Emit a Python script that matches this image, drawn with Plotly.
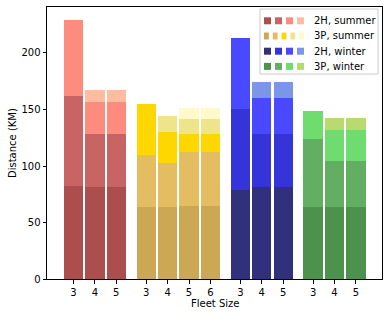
import plotly.graph_objects as go

# ---- data (cumulative distance per stacked layer, per bar) ----
group_names = ["2H, summer", "3P, summer", "2H, winter", "3P, winter"]
fleet_sizes = [[3, 4, 5], [3, 4, 5, 6], [3, 4, 5], [3, 4, 5]]
summer_2h = [[82.6, 162.0, 229.2], [81.4, 128.3, 156.6, 167.3], [81.4, 128.3, 156.6, 167.3]]
summer_3p = [[64.0, 109.7, 154.9], [64.0, 102.7, 130.0, 144.0],
             [64.9, 112.4, 128.6, 141.6, 151.3], [64.9, 112.4, 128.6, 141.6, 151.3]]
winter_2h = [[78.8, 150.4, 213.3], [81.4, 128.3, 160.2, 174.3], [81.4, 128.3, 160.2, 174.3]]
winter_3p = [[63.7, 123.9, 148.7], [63.7, 104.4, 131.9, 142.5], [63.7, 104.4, 131.9, 142.5]]
y_ticks = [0, 50, 100, 150, 200]

palettes = [
    ["#ad4e4e", "#c86464", "#fe8c7e", "#ffbca0"],
    ["#cca855", "#e4bc62", "#ffd700", "#efe38b", "#fff9cc"],
    ["#30307c", "#3434d8", "#4949ff", "#7b96e8"],
    ["#4c924c", "#62ae62", "#6edc6e", "#b8da70"],
]
group_data = [summer_2h, summer_3p, winter_2h, winter_3p]

fig = go.Figure()
gap = 1.4
start = 0.0
tickvals, ticktext = [], []
for sizes, bars, cols in zip(fleet_sizes, group_data, palettes):
    xs = [start + i for i in range(len(sizes))]
    tickvals += xs
    ticktext += [str(s) for s in sizes]
    nlayers = max(len(b) for b in bars)
    for k in reversed(range(nlayers)):
        lx = [x for x, b in zip(xs, bars) if len(b) > k]
        ly = [b[k] for b in bars if len(b) > k]
        fig.add_trace(go.Bar(x=lx, y=ly, width=0.9, marker=dict(color=cols[k], line=dict(width=0)),
                             showlegend=False, hoverinfo="skip"))
    start = xs[-1] + gap

L, R, T, B = 47, 7, 7, 38
W, H = 389, 317
pw, ph = W - L - R, H - T - B

def px(x):
    return (x - L) / pw

def py(y):
    return (H - B - y) / ph

shapes = []
annotations = []
# legend box
shapes.append(dict(type="rect", xref="paper", yref="paper", x0=px(260), x1=px(378), y0=py(74), y1=py(9),
                   line=dict(color="#cccccc", width=1), fillcolor="rgba(255,255,255,0.8)", layer="above"))
row_y = [20.8, 36.0, 51.2, 66.4]
for name, cols, ry in zip(group_names, palettes, row_y):
    n = len(cols)
    total, pad = 40.0, 4.0
    w = (total - pad * (n - 1)) / n
    for i, c in enumerate(cols):
        x0 = 264 + i * (w + pad)
        shapes.append(dict(type="rect", xref="paper", yref="paper", x0=px(x0), x1=px(x0 + w),
                           y0=py(ry + 3.5), y1=py(ry - 3.5), line=dict(width=0), fillcolor=c, layer="above"))
    annotations.append(dict(text=name, xref="paper", yref="paper", x=px(312), y=py(ry), xanchor="left",
                            yanchor="middle", showarrow=False, font=dict(size=10, color="black")))

annotations.append(dict(text="Distance (KM)", xref="paper", yref="paper", x=px(12), y=0.5, textangle=-90,
                        xanchor="center", yanchor="middle", showarrow=False, font=dict(size=10, color="black")))
annotations.append(dict(text="Fleet Size", xref="paper", yref="paper", x=0.5, y=py(303.5), xanchor="center",
                        yanchor="middle", showarrow=False, font=dict(size=10, color="black")))

fig.update_layout(
    width=W, height=H, margin=dict(l=L, r=R, t=T, b=B),
    plot_bgcolor="white", paper_bgcolor="white", barmode="overlay", bargap=0,
    font=dict(family="DejaVu Sans", size=10, color="black"),
    shapes=shapes, annotations=annotations, showlegend=False,
)
fig.update_xaxes(range=[-1.24, 14.42], tickvals=tickvals, ticktext=ticktext, ticks="outside", ticklen=3.5,
                 tickcolor="black", showline=True, linecolor="black", linewidth=1, mirror=True,
                 showgrid=False, zeroline=False, tickfont=dict(size=10, color="black"))
fig.update_yaxes(range=[0, 240.7], tickvals=y_ticks, ticks="outside", ticklen=3.5, tickcolor="black",
                 showline=True, linecolor="black", linewidth=1, mirror=True, showgrid=False, zeroline=False,
                 tickfont=dict(size=10, color="black"))

fig.write_html("out.html", config={"displayModeBar": False},
               post_script="document.body.style.margin='0';document.body.style.overflow='hidden';")
